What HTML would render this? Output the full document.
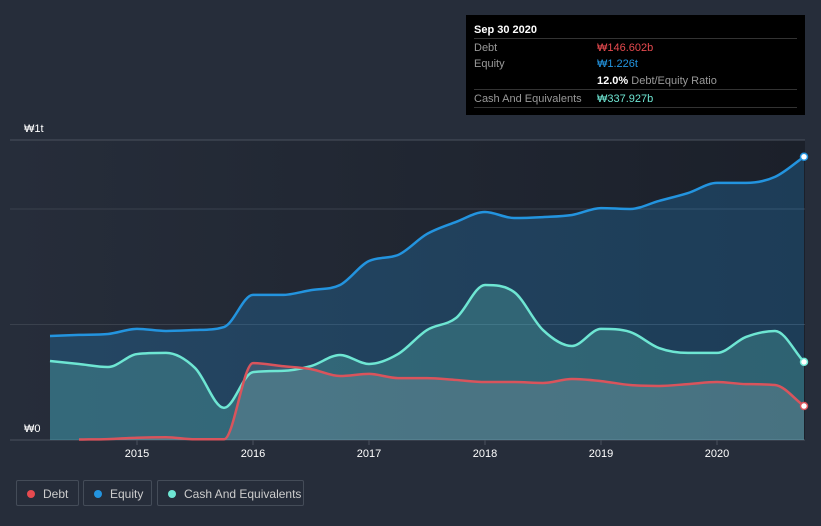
<!DOCTYPE html>
<html><head><meta charset="utf-8"><style>
body{margin:0;background:#262d3a;width:821px;height:526px;overflow:hidden;font-family:"Liberation Sans",sans-serif}
.tt{position:absolute;left:466px;top:15px;width:339px;height:100px;background:#000;color:#fff;font-size:11px}
.row{position:absolute;left:8px;width:323px;border-top:1px solid #333;height:18px;line-height:18px}
.lab{color:#999}
.leg{position:absolute;top:480px;height:26px;border:1px solid #444c58;border-radius:2px;color:#ccc;font-size:12px;line-height:26px;box-sizing:border-box}
.dot{display:inline-block;width:8px;height:8px;border-radius:50%;margin:0 8px 0 10px}
</style></head><body>
<svg id="chart" width="821" height="526" style="position:absolute;left:0;top:0">
<defs>
<linearGradient id="bg" x1="0" x2="1"><stop offset="0" stop-color="#262d3a"/><stop offset="1" stop-color="#1b202a"/></linearGradient>
</defs>
<rect x="10" y="140" width="795" height="300" fill="url(#bg)"/>
<g id="grid"></g><g id="areas"></g><g id="lines"></g><g id="xt"></g>
<text x="24" y="132" fill="#fff" font-size="11">₩1t</text>
<text x="24" y="432" fill="#fff" font-size="11">₩0</text>
</svg>
<div class="tt">
<div style="position:absolute;left:8px;top:9px;font-weight:bold">Sep 30 2020</div>
<div class="row" style="top:23px"><span class="lab">Debt</span><span style="position:absolute;left:123px;color:#e64a4f">₩146.602b</span></div>
<div class="row" style="top:40px;border:none"><span class="lab">Equity</span><span style="position:absolute;left:123px;color:#2394df">₩1.226t</span></div>
<div class="row" style="top:57px;border:none"><span style="position:absolute;left:123px"><b>12.0%</b> <span class="lab">Debt/Equity Ratio</span></span></div>
<div class="row" style="top:74px"><span class="lab">Cash And Equivalents</span><span style="position:absolute;left:123px;color:#6ee6d3">₩337.927b</span></div>
<div class="row" style="top:92px;height:0"></div>
</div>
<div class="leg" style="left:16px;width:63px"><span class="dot" style="background:#e64a4f"></span>Debt</div>
<div class="leg" style="left:83px;width:69px"><span class="dot" style="background:#2394df"></span>Equity</div>
<div class="leg" style="left:157px;width:147px"><span class="dot" style="background:#6ee6d3"></span>Cash And Equivalents</div>
<script>
const dates=[2014.25,2014.5,2014.75,2015,2015.25,2015.5,2015.75,2016,2016.25,2016.5,2016.75,2017,2017.25,2017.5,2017.75,2018,2018.25,2018.5,2018.75,2019,2019.25,2019.5,2019.75,2020,2020.25,2020.5,2020.75];
const equity=[450,455,459,481,472,476,489,628,628,649,671,775,801,892,944,987,961,965,974,1004,1000,1035,1069,1113,1113,1139,1226];
const cash=[342,329,316,372,377,312,139,294,299,320,368,329,372,476,528,671,641,476,407,481,468,398,377,377,446,472,338];
const debtDates=[2014.5,2014.75,2015,2015.25,2015.5,2015.75,2016,2016.25,2016.5,2016.75,2017,2017.25,2017.5,2017.75,2018,2018.25,2018.5,2018.75,2019,2019.25,2019.5,2019.75,2020,2020.25,2020.5,2020.75];
const debt=[2,4,10,12,3,3,333,320,307,277,286,268,268,260,251,251,247,264,255,238,234,242,251,242,238,147];
const years=[2015,2016,2017,2018,2019,2020];
const gridVals=[500,1000];
const X=d=>137+(d-2015)*116;
const Y=v=>440-v*0.231;
const NS='http://www.w3.org/2000/svg';
function mk(p,t,a){const e=document.createElementNS(NS,t);for(const k in a)e.setAttribute(k,a[k]);document.getElementById(p).appendChild(e);return e;}
function path(xs,vs){const p=xs.map((d,i)=>[X(d),Y(vs[i])]);const n=p.length;const dl=[],m=[];
for(let i=0;i<n-1;i++)dl.push((p[i+1][1]-p[i][1])/(p[i+1][0]-p[i][0]));
for(let i=0;i<n;i++){if(i==0)m.push(dl[0]);else if(i==n-1)m.push(dl[n-2]);else if(dl[i-1]*dl[i]<=0)m.push(0);else m.push((dl[i-1]+dl[i])/2);}
for(let i=0;i<n-1;i++){if(dl[i]==0){m[i]=0;m[i+1]=0;continue;}const a=m[i]/dl[i],b=m[i+1]/dl[i],s=a*a+b*b;if(s>9){const t=3/Math.sqrt(s);m[i]=t*a*dl[i];m[i+1]=t*b*dl[i];}}
let s='M'+p[0];for(let i=0;i<n-1;i++){const h=(p[i+1][0]-p[i][0])/3;s+=`C${p[i][0]+h},${p[i][1]+m[i]*h} ${p[i+1][0]-h},${p[i+1][1]-m[i+1]*h} ${p[i+1][0]},${p[i+1][1]}`;}return s;}
gridVals.forEach(v=>{const g=mk('grid','line',{x1:10,x2:805,y1:Y(v),y2:Y(v),stroke:'#3a414d'});

});
mk('grid','line',{x1:10,x2:805,y1:140,y2:140,stroke:'#4a515d'});
mk('grid','line',{x1:10,x2:805,y1:440,y2:440,stroke:'#4a515d'});
const series=[[dates,equity,'#2394df','rgba(35,148,223,0.25)','equity'],[dates,cash,'#6ee6d3','rgba(110,230,211,0.22)','cash'],[debtDates,debt,'#d9545c','rgba(190,190,200,0.18)','debt']];
series.forEach(([xs,vs,c,f,n])=>{const p=path(xs,vs);
const a=mk('areas','path',{d:p+`L${X(xs[xs.length-1])},440L${X(xs[0])},440Z`,fill:f});


const l=mk('lines','path',{d:p,fill:'none',stroke:c,'stroke-width':2.5});


const e=mk('lines','circle',{cx:X(xs[xs.length-1]),cy:Y(vs[vs.length-1]),r:3.5,fill:'#fff',stroke:c,'stroke-width':1.5});

});
years.forEach(y=>{mk('xt','line',{x1:X(y),x2:X(y),y1:440,y2:445,stroke:'#4a515d'});
const t=mk('xt','text',{x:X(y),y:457,fill:'#fff','font-size':11,'text-anchor':'middle'});t.textContent=y;

});
</script>
</body></html>
